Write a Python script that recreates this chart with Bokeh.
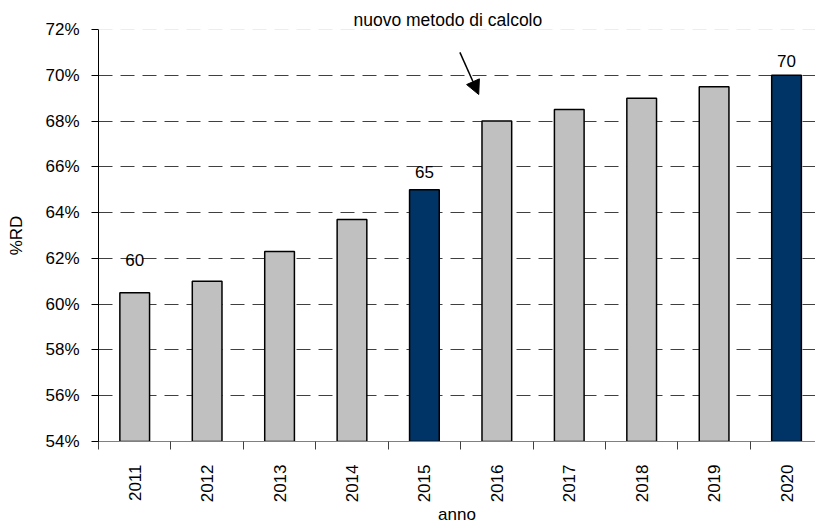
import numpy as np
from bokeh.plotting import figure
from bokeh.models import (Range1d, FixedTicker, PrintfTickFormatter, Span, Arrow,
                          NormalHead, ColumnDataSource)
from bokeh.embed import file_html
from bokeh.resources import INLINE
from bokeh.core.properties import value

# ---- data ----
years = [2011, 2012, 2013, 2014, 2015, 2016, 2017, 2018, 2019, 2020]
rd_pct = [60.5, 61.0, 62.3, 63.7, 65.0, 68.0, 68.5, 69.0, 69.5, 70.0]
bar_colors = ["#C0C0C0", "#C0C0C0", "#C0C0C0", "#C0C0C0", "#003366",
              "#C0C0C0", "#C0C0C0", "#C0C0C0", "#C0C0C0", "#003366"]
label_years = [2011, 2015, 2020]
label_texts = ["60", "65", "70"]
label_values = [60.5, 65.0, 70.0]
y_ticks = [54, 56, 58, 60, 62, 64, 66, 68, 70, 72]
annotation_text = "nuovo metodo di calcolo"

FONT = "Liberation Sans"

p = figure(width=815, height=527, output_backend="svg", toolbar_location=None,
           x_range=Range1d(2010.5, 2020.40), y_range=Range1d(54, 72),
           min_border_left=98, min_border_top=29, min_border_bottom=86,
           min_border_right=0, title=annotation_text)
p.outline_line_color = None
p.background_fill_color = "white"
p.border_fill_color = "white"

# annotation text as the title, placed above the arrow
p.title.align = "left"
p.title.offset = 255
p.title.standoff = 0
p.title.text_font = FONT
p.title.text_font_size = "17.5px"
p.title.text_font_style = "normal"
p.title.text_color = "black"

src = ColumnDataSource(dict(x=years, top=rd_pct, color=bar_colors))
p.vbar(x="x", top="top", bottom=54, width=0.41, source=src,
       fill_color="color", line_color="black", line_width=1.5)

lsrc = ColumnDataSource(dict(x=label_years, y=label_values, t=label_texts,
                             dy=[-33, -18, -14]))
p.text(x="x", y="y", text="t", source=lsrc, text_align="center",
       text_baseline="alphabetic", y_offset="dy",
       text_font=value(FONT), text_font_size="17px", text_color="black")

# grid
p.xgrid.visible = False
p.ygrid.ticker = FixedTicker(ticks=y_ticks[1:-1])
p.ygrid.grid_line_color = "#404040"
p.ygrid.grid_line_dash = "14 8"
p.ygrid.grid_line_width = 1
p.add_layout(Span(location=72, dimension="width", line_color="#dcdcdc",
                  line_dash="14 8", line_width=1))

# axes
xa = p.xaxis[0]
xa.ticker = FixedTicker(ticks=years, minor_ticks=[y - 0.5 for y in years] + [years[-1] + 0.5])
xa.major_tick_out = 0
xa.major_tick_in = 0
xa.minor_tick_out = 8
xa.minor_tick_in = 0
xa.minor_tick_line_color = "#404040"
xa.axis_line_color = "#808080"
xa.major_label_orientation = np.pi / 2
xa.major_label_standoff = 15
xa.major_label_text_font = FONT
xa.major_label_text_font_size = "17px"
xa.major_label_text_color = "black"
xa.axis_label = "anno"
xa.axis_label_text_font = FONT
xa.axis_label_text_font_size = "17px"
xa.axis_label_text_font_style = "normal"
xa.axis_label_text_color = "black"
xa.axis_label_standoff = 0

ya = p.yaxis[0]
ya.ticker = FixedTicker(ticks=y_ticks)
ya.formatter = PrintfTickFormatter(format="%d%%")
ya.major_tick_out = 7
ya.major_tick_in = 0
ya.minor_tick_line_color = None
ya.axis_line_color = "black"
ya.major_tick_line_color = "black"
ya.major_label_standoff = 12
ya.major_label_text_font = FONT
ya.major_label_text_font_size = "17px"
ya.major_label_text_color = "black"
ya.axis_label = "%RD"
ya.axis_label_text_font = FONT
ya.axis_label_text_font_size = "17px"
ya.axis_label_text_font_style = "normal"
ya.axis_label_text_color = "black"
ya.axis_label_standoff = 16

p.add_layout(Arrow(x_start=2015.49, y_start=71.0, x_end=2015.75, y_end=69.16,
                   line_color="black", line_width=1.5,
                   end=NormalHead(size=14, fill_color="black", line_color="black")))

open("out.html", "w").write(file_html(p, INLINE))
